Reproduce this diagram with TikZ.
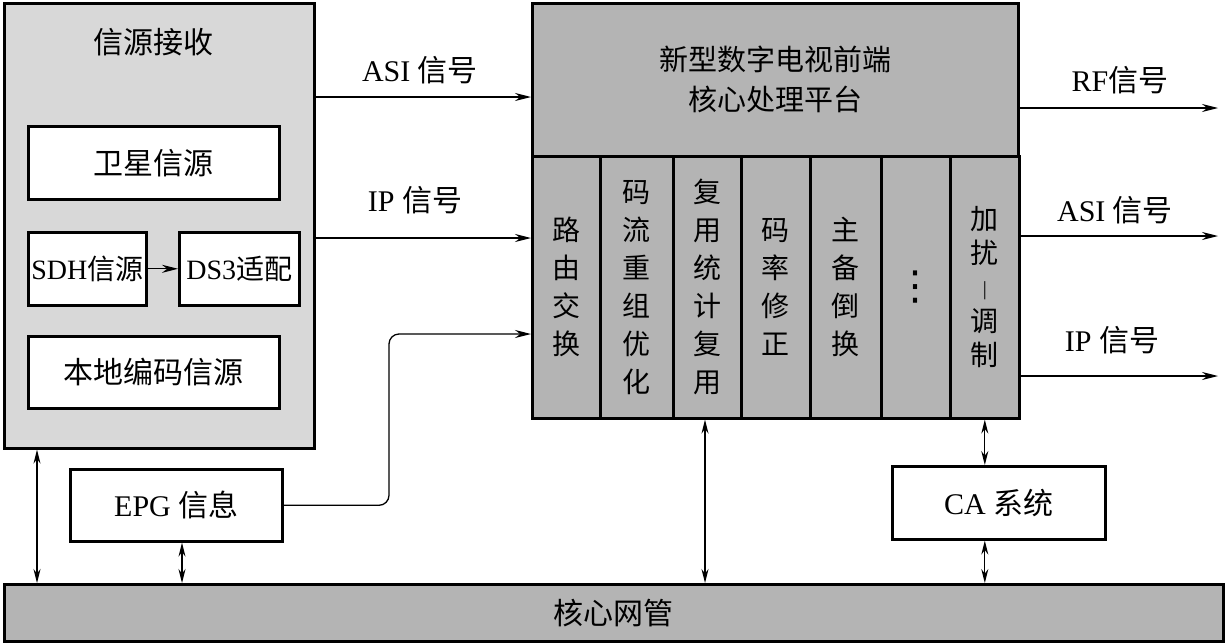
\documentclass[tikz,border=0pt]{standalone}
\usepackage{fontspec}
\setmainfont{Liberation Serif}
\newfontfamily\cjk{Noto Sans CJK SC}
\newfontfamily\symfnt{DejaVu Sans}
\usetikzlibrary{arrows.meta}
\definecolor{lightbg}{HTML}{D8D8D8}
\definecolor{darkbg}{HTML}{B4B4B4}
\newcommand\zh[1]{{\cjk #1}}
\begin{document}
\begin{tikzpicture}[x=1pt,y=-1pt,
  every node/.style={font=\fontsize{30}{36}\selectfont},
  frame/.style={draw, line width=2.6pt, inner sep=0pt, anchor=north west},
  box/.style={frame, fill=white},
  col/.style={frame, fill=darkbg, align=center, font=\cjk\fontsize{28}{38}\selectfont},
  lbl/.style={inner sep=0pt},
  arr/.style={line width=1.3pt, -{Stealth[length=16pt,width=8pt]}},
  dbl/.style={line width=1.3pt, {Stealth[length=14pt,width=7pt]}-{Stealth[length=14pt,width=7pt]}}]
\useasboundingbox (0,0) rectangle (1225,643);
% left block
\node[frame, fill=lightbg, minimum width=310, minimum height=445] (src) at (3,2) {};
\node[lbl] (srctitle) at (153,42) {\zh{信源接收}};
\node[box, minimum width=251, minimum height=73] (sat) at (27,125) {\zh{卫星信源}};
\node[box, minimum width=118, minimum height=73, font=\fontsize{28}{32}\selectfont] (sdh) at (27,231) {SDH\zh{信源}};
\node[box, minimum width=120, minimum height=73, font=\fontsize{28}{32}\selectfont] (ds3) at (178,231) {DS3\zh{适配}};
\node[box, minimum width=251, minimum height=72] (loc) at (27,335) {\zh{本地编码信源}};
\draw[arr] (sdh) -- (ds3);
% platform
\node[frame, fill=darkbg, minimum width=486, minimum height=415] (plat) at (531,2) {};
\node[frame, fill=darkbg, minimum width=486, minimum height=153, align=center, font=\cjk\fontsize{29}{40}\selectfont] (head) at (531,2) {新型数字电视前端\\核心处理平台};
\node[col, minimum width=68, minimum height=262] (c1) at (531,155) {路\\由\\交\\换};
\node[col, minimum width=73, minimum height=262] (c2) at (599,155) {码\\流\\重\\组\\优\\化};
\node[col, minimum width=68, minimum height=262] (c3) at (672,155) {复\\用\\统\\计\\复\\用};
\node[col, minimum width=69, minimum height=262] (c4) at (740,155) {码\\率\\修\\正};
\node[col, minimum width=71, minimum height=262] (c5) at (809,155) {主\\备\\倒\\换};
\node[col, minimum width=69, minimum height=262, font=\symfnt\fontsize{40}{40}\selectfont] (c6) at (880,155) {⋮};
\node[col, minimum width=69, minimum height=262, font=\cjk\fontsize{28}{34}\selectfont] (c7) at (949,155) {加\\扰\\{\rmfamily\fontsize{20}{34}\selectfont\raisebox{2pt}{|}}\\调\\制};
% EPG and CA
\node[box, minimum width=212, minimum height=72] (epg) at (69,468) {EPG \zh{信息}};
\node[box, minimum width=213, minimum height=73] (ca) at (891,465) {CA \zh{系统}};
% bottom bar
\node[frame, fill=darkbg, minimum width=1219, minimum height=57] (nms) at (3,583) {\zh{核心网管}};
% inputs
\draw[arr] (src.east |- 0,97) -- (plat.west |- 0,97);
\node[lbl] (lasi) at (420,70) {ASI \zh{信号}};
\draw[arr] (src.east |- 0,238) -- (plat.west |- 0,238);
\node[lbl] (lip) at (415,200) {IP \zh{信号}};
\coordinate (bend) at (389,334);
\draw[arr, rounded corners=10pt] (epg.east) -| (bend) -- (plat.west |- bend);
% outputs
\coordinate (rfend) at (1218,108);
\coordinate (asiend) at (1218,236);
\coordinate (ipend) at (1218,376);
\draw[arr] (plat.east |- rfend) -- (rfend);
\draw[arr] (plat.east |- asiend) -- (asiend);
\draw[arr] (plat.east |- ipend) -- (ipend);
\node[lbl] (rrf) at (1120,80) {RF\zh{信号}};
\node[lbl] (rasi) at (1115,210) {ASI \zh{信号}};
\node[lbl] (rip) at (1112,340) {IP \zh{信号}};
% management links
\draw[dbl] (src.south -| 37,0) -- (nms.north -| 37,0);
\draw[dbl] (epg.south -| 182,0) -- (nms.north -| 182,0);
\draw[dbl] (c3.south -| 705,0) -- (nms.north -| 705,0);
\draw[dbl] (c7.south) -- (ca.north -| c7.south);
\draw[dbl] (ca.south -| c7.south) -- (nms.north -| c7.south);
\end{tikzpicture}
\end{document}
